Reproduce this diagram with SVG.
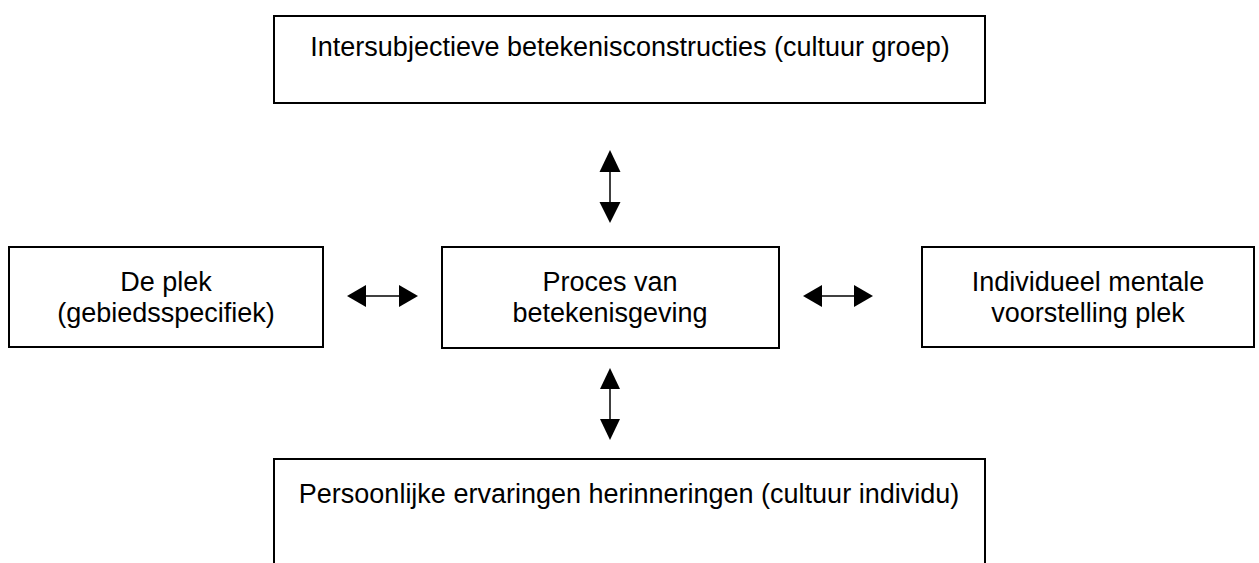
<svg xmlns="http://www.w3.org/2000/svg" width="1259" height="563" viewBox="0 0 1259 563">
<defs>
<style>
.box{fill:#fff;stroke:#000;stroke-width:2}
.t{font-family:"Liberation Sans",Arial,sans-serif;font-size:27px;fill:#000;text-anchor:middle}
.c{stroke:#000;stroke-width:1.5;fill:none}
.h{fill:#000;stroke:none}
</style>
</defs>
<rect width="1259" height="563" fill="#fff"/>
<g id="node-top">
<rect class="box" x="274" y="16" width="711" height="87"/>
<text class="t" x="630" y="56">Intersubjectieve betekenisconstructies (cultuur groep)</text>
</g>
<g id="node-left">
<rect class="box" x="9" y="247" width="314" height="100"/>
<text class="t" x="166" y="291">De plek</text>
<text class="t" x="166" y="322">(gebiedsspecifiek)</text>
</g>
<g id="node-center">
<rect class="box" x="442" y="247" width="337" height="101"/>
<text class="t" x="610" y="291">Proces van</text>
<text class="t" x="610" y="322">betekenisgeving</text>
</g>
<g id="node-right">
<rect class="box" x="922" y="247" width="332" height="100"/>
<text class="t" x="1088" y="291">Individueel mentale</text>
<text class="t" x="1088" y="322">voorstelling plek</text>
</g>
<g id="node-bottom">
<rect class="box" x="274" y="459" width="711" height="112"/>
<text class="t" x="629" y="503">Persoonlijke ervaringen herinneringen (cultuur individu)</text>
</g>
<g id="connectors">
<line class="c" x1="610" y1="170" x2="610" y2="205"/>
<polygon class="h" points="610,150 599.5,172 620.5,172"/>
<polygon class="h" points="610,223 599.5,202 620.5,202"/>
<line class="c" x1="610" y1="386" x2="610" y2="421"/>
<polygon class="h" points="610,368 600,389 620,389"/>
<polygon class="h" points="610,440 600,419 620,419"/>
<line class="c" x1="363" y1="296" x2="402" y2="296"/>
<polygon class="h" points="347,296 366,285 366,307"/>
<polygon class="h" points="418,296 399,285 399,307"/>
<line class="c" x1="819" y1="296" x2="857" y2="296"/>
<polygon class="h" points="803,296 822,285 822,307"/>
<polygon class="h" points="873,296 854,285 854,307"/>
</g>
</svg>
